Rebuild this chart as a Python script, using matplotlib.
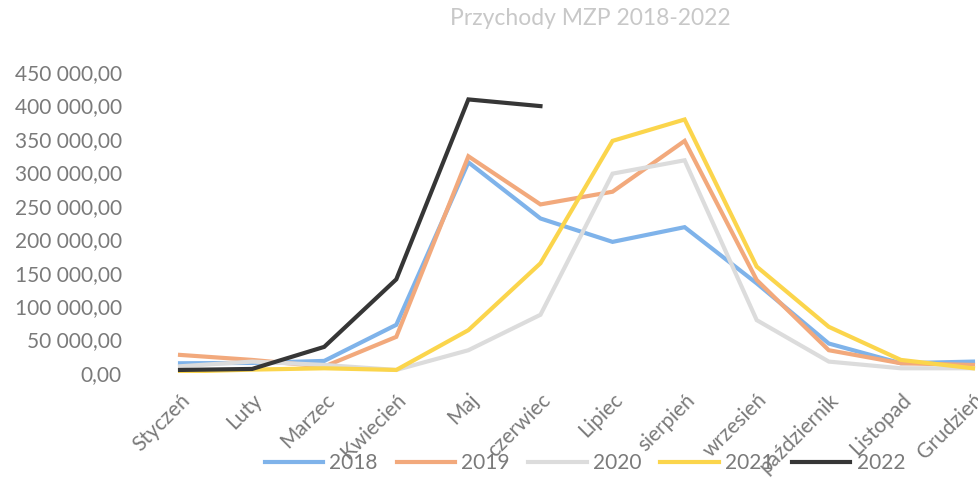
import matplotlib
matplotlib.use("Agg")
import matplotlib.pyplot as plt
from matplotlib.ticker import FuncFormatter, MultipleLocator

plt.rcParams["font.family"] = ["Lato", "DejaVu Sans"]

months = ["Styczeń", "Luty", "Marzec", "Kwiecień", "Maj", "czerwiec",
          "Lipiec", "sierpień", "wrzesień", "październik", "Listopad", "Grudzień"]

y2018 = [14500, 15000, 18000, 72000, 315000, 231000, 196000, 218000, 134000, 44000, 14500, 17000]
y2019 = [27000, 19500, 9500, 54000, 324000, 252000, 271000, 347000, 139000, 34000, 14500, 12000]
y2020 = [10000, 17000, 12000, 4500, 34000, 87000, 298000, 318000, 79000, 17000, 7000, 7000]
y2021 = [2000, 5000, 7000, 4500, 64000, 164000, 347000, 379000, 159000, 69000, 19500, 7000]
y2022 = [4500, 6000, 39000, 140000, 409000, 399000]

series = [
    ("2018", y2018, "#7fb3ea"),
    ("2019", y2019, "#f2a97c"),
    ("2020", y2020, "#dcdcdc"),
    ("2021", y2021, "#fbd54c"),
    ("2022", y2022, "#363636"),
]

fig = plt.figure(figsize=(9.79, 4.8), dpi=100)
ax = fig.add_axes([144 / 979, 0.223, 865 / 979, 0.627])

for name, vals, col in series:
    ax.plot(range(len(vals)), vals, color=col, lw=3, label=name, solid_joinstyle="miter")

ax.set_xlim(-0.5, 11.5)
ax.set_ylim(0, 450000)
ax.yaxis.set_major_locator(MultipleLocator(50000))
ax.yaxis.set_major_formatter(FuncFormatter(
    lambda v, p: f"{v:,.2f}".replace(",", " ").replace(".", ",")))
ax.set_xticks(range(12))
ax.set_xticklabels(months, rotation=45, ha="right", va="top", rotation_mode="anchor")
ax.tick_params(axis="both", length=0, labelsize=15, colors="#7a7a7a")
ax.tick_params(axis="y", pad=16)
ax.tick_params(axis="x", pad=12)
for s in ax.spines.values():
    s.set_visible(False)

fig.text(0.603, 0.962, "Przychody MZP 2018-2022", ha="center", va="center",
         fontsize=16.5, color="#c8c8c8")

fig.legend(loc="center", bbox_to_anchor=(585 / 979, 0.035), ncol=5, frameon=False,
           fontsize=15, handlelength=2.8, columnspacing=0.9, handletextpad=0.3,
           labelcolor="#7a7a7a")

fig.savefig("out.png", dpi=100)
